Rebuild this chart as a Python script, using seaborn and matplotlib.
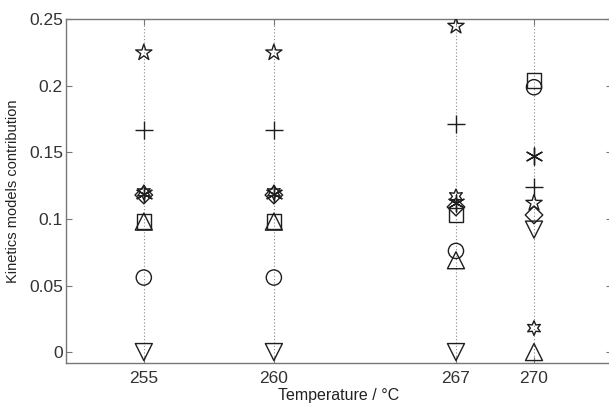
import matplotlib
matplotlib.use("Agg")
import matplotlib.pyplot as plt
import seaborn as sns
import pandas as pd

temperatures = [255, 260, 267, 270]
x_tick_labels = ["255", "260", "267", "270"]
y_ticks = [0, 0.05, 0.1, 0.15, 0.2, 0.25]
y_tick_labels = ["0", "0.05", "0.1", "0.15", "0.2", "0.25"]

model_pentagram = [0.225, 0.225, 0.245, 0.112]
model_plus = [0.167, 0.167, 0.171, 0.124]
model_asterisk = [0.119, 0.119, 0.112, 0.147]
model_hexagram = [0.120, 0.120, 0.117, 0.018]
model_diamond = [0.118, 0.118, 0.109, 0.103]
model_square = [0.098, 0.098, 0.103, 0.204]
model_triangle_up = [0.098, 0.098, 0.069, 0.0]
model_circle = [0.056, 0.056, 0.076, 0.199]
model_triangle_down = [0.0, 0.0, 0.0, 0.092]

series = {
    "pentagram": model_pentagram,
    "plus": model_plus,
    "asterisk": model_asterisk,
    "hexagram": model_hexagram,
    "diamond": model_diamond,
    "square": model_square,
    "triangle_up": model_triangle_up,
    "circle": model_circle,
    "triangle_down": model_triangle_down,
}
markers = {
    "pentagram": "*",
    "plus": "+",
    "asterisk": (6, 2, 0),
    "hexagram": (6, 1, 0),
    "diamond": "D",
    "square": "s",
    "triangle_up": "^",
    "circle": "o",
    "triangle_down": "v",
}
sizes = {
    "pentagram": 150, "plus": 170, "asterisk": 150, "hexagram": 110,
    "diamond": 80, "square": 110, "triangle_up": 150, "circle": 120,
    "triangle_down": 150,
}

rows = []
for name, vals in series.items():
    for t, v in zip(temperatures, vals):
        rows.append({"model": name, "T": t, "value": v})
df = pd.DataFrame(rows)

sns.set_style("white")
plt.rcParams["font.family"] = ["Liberation Sans", "DejaVu Sans"]

fig = plt.figure(figsize=(6.09, 4.03), dpi=100)
ax = fig.add_axes([0.108, 0.099, 0.897, 0.853])

for t in temperatures:
    ax.axvline(t, color="#888888", linestyle=(0, (1, 2)), linewidth=0.8, zorder=0)

ink = "#1e1e1e"
for name in series:
    sub = df[df["model"] == name]
    m = markers[name]
    if name in ("plus", "asterisk"):
        sns.scatterplot(data=sub, x="T", y="value", marker=m, s=sizes[name],
                        color=ink, linewidth=1.0, ax=ax, legend=False, zorder=3)
    else:
        sns.scatterplot(data=sub, x="T", y="value", marker=m, s=sizes[name],
                        facecolor="none", edgecolor=ink, linewidth=1.0, ax=ax,
                        legend=False, zorder=3)

ax.set_xlim(252, 273)
ax.set_ylim(-0.0083, 0.25)
ax.set_xticks(temperatures)
ax.set_xticklabels(x_tick_labels)
ax.set_yticks(y_ticks)
ax.set_yticklabels(y_tick_labels)
ax.tick_params(direction="in", length=4, width=0.8, color="#777777",
               labelsize=12.5, labelcolor="#333333", top=True, right=True,
               bottom=True, left=True)
ax.tick_params(axis="x", pad=6)
ax.tick_params(axis="y", pad=2)
for sp in ax.spines.values():
    sp.set_color("#777777")
    sp.set_linewidth(1.0)
ax.set_xlabel("Temperature / °C", fontsize=11.5, color="#222222", labelpad=1)
ax.set_ylabel("Kinetics models contribution", fontsize=10.5, color="#222222")
ax.yaxis.set_label_coords(-0.084, 0.5)

fig.savefig("out.png", dpi=100)
